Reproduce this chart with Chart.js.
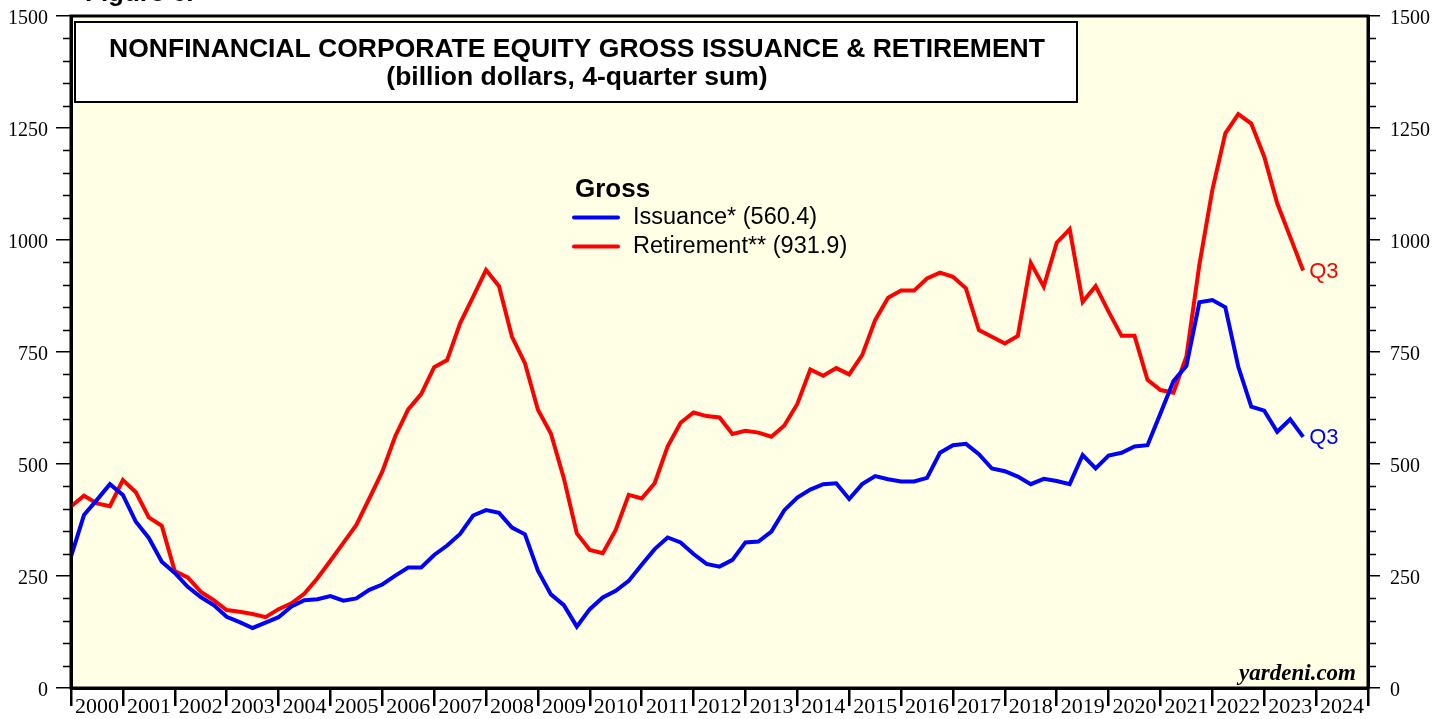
<!DOCTYPE html>
<html>
<head>
<meta charset="utf-8">
<script src="https://cdn.jsdelivr.net/npm/chart.js@4.4.0/dist/chart.umd.min.js"></script>
<style>
html,body{margin:0;padding:0;background:#ffffff;}
#wrap{width:1448px;height:719px;position:relative;overflow:hidden;}
canvas{display:block;}
</style>
</head>
<body>
<div id="wrap"><canvas id="c" width="1448" height="719"></canvas></div>
<script>
// ---------- DATA ----------
const quarters = [
  '1999Q4',
  '2000Q1','2000Q2','2000Q3','2000Q4','2001Q1','2001Q2','2001Q3','2001Q4',
  '2002Q1','2002Q2','2002Q3','2002Q4','2003Q1','2003Q2','2003Q3','2003Q4',
  '2004Q1','2004Q2','2004Q3','2004Q4','2005Q1','2005Q2','2005Q3','2005Q4',
  '2006Q1','2006Q2','2006Q3','2006Q4','2007Q1','2007Q2','2007Q3','2007Q4',
  '2008Q1','2008Q2','2008Q3','2008Q4','2009Q1','2009Q2','2009Q3','2009Q4',
  '2010Q1','2010Q2','2010Q3','2010Q4','2011Q1','2011Q2','2011Q3','2011Q4',
  '2012Q1','2012Q2','2012Q3','2012Q4','2013Q1','2013Q2','2013Q3','2013Q4',
  '2014Q1','2014Q2','2014Q3','2014Q4','2015Q1','2015Q2','2015Q3','2015Q4',
  '2016Q1','2016Q2','2016Q3','2016Q4','2017Q1','2017Q2','2017Q3','2017Q4',
  '2018Q1','2018Q2','2018Q3','2018Q4','2019Q1','2019Q2','2019Q3','2019Q4',
  '2020Q1','2020Q2','2020Q3','2020Q4','2021Q1','2021Q2','2021Q3','2021Q4',
  '2022Q1','2022Q2','2022Q3','2022Q4','2023Q1','2023Q2','2023Q3'
];
const issuance = [
  293,
  386,420,455,431, 371,335,282,257,
  226,203,185,159, 147,134,146,158,
  182,196,198,205, 195,200,219,231,
  251,269,269,297, 318,344,385,397,
  391,358,343,262, 209,185,137,176,
  202,217,239,275, 310,336,325,299,
  277,271,286,325, 327,349,397,425,
  443,455,457,422, 455,473,466,461,
  461,469,525,542, 545,522,490,484,
  472,455,467,462, 455,520,490,519,
  525,539,542,613, 685,719,861,866,
  850,717,628,619, 572,600,560.4
];
const retirement = [
  405,
  429,412,406,464, 437,381,362,261,
  247,215,196,174, 170,165,158,176,
  189,211,245,284, 324,364,423,483,
  562,622,656,716, 732,814,873,933,
  897,784,725,621, 568,468,345,308,
  301,353,431,423, 457,539,592,615,
  607,604,567,574, 570,561,586,634,
  711,697,714,700, 743,821,871,887,
  887,914,927,918, 892,799,784,769,
  786,949,896,994, 1024,862,897,840,
  786,786,688,665, 659,740,945,1112,
  1238,1281,1260,1186, 1082,1007,931.9
];
const seriesNames = ['Issuance*', 'Retirement**'];
const seriesColors = ['#0000ff', '#ff0000'];
const xTickLabels = ['2000','2001','2002','2003','2004','2005','2006','2007','2008','2009',
  '2010','2011','2012','2013','2014','2015','2016','2017','2018','2019',
  '2020','2021','2022','2023','2024'];
const yTickLabels = ['0','250','500','750','1000','1250','1500'];
const titleLines = ['NONFINANCIAL CORPORATE EQUITY GROSS ISSUANCE & RETIREMENT',
  '(billion dollars, 4-quarter sum)'];
const legendTitle = 'Gross';
const lastLabel = 'Q3';
const sourceText = 'yardeni.com';
const figureText = 'Figure 6.';

// quarter label -> decimal year at end of quarter
function qToX(q) { return parseInt(q.slice(0,4),10) + parseInt(q.slice(5),10) / 4; }
function toPoints(vals) { return vals.map((v,i) => ({x: qToX(quarters[i]), y: v})); }

const SANS = '"Liberation Sans", Arial, sans-serif';
const SERIF = '"Liberation Serif", "Times New Roman", serif';

function noPad(s) { s.paddingTop = 0; s.paddingBottom = 0; s.paddingLeft = 0; s.paddingRight = 0; }

const decor = {
  id: 'decor',
  beforeDraw(chart) {
    const {ctx, chartArea: a} = chart;
    ctx.save();
    ctx.fillStyle = '#ffffe6';
    ctx.fillRect(a.left, a.top, a.right - a.left, a.bottom - a.top);
    ctx.restore();
  },
  afterDraw(chart) {
    const {ctx, chartArea: a} = chart;
    const y = chart.scales.y;
    ctx.save();
    // minor ticks every 50
    ctx.strokeStyle = '#000';
    ctx.lineWidth = 1.5;
    for (let v = 0; v <= 1500; v += 50) {
      if (v % 250 === 0) continue;
      const py = Math.round(y.getPixelForValue(v)) + 0.5;
      ctx.beginPath();
      ctx.moveTo(a.left - 8, py); ctx.lineTo(a.left, py);
      ctx.moveTo(a.right, py); ctx.lineTo(a.right + 8, py);
      ctx.stroke();
    }
    // frame
    ctx.lineWidth = 3;
    ctx.strokeRect(a.left, a.top, a.right - a.left, a.bottom - a.top);

    // title box
    ctx.fillStyle = '#ffffff';
    ctx.fillRect(75, 22, 1002, 80);
    ctx.lineWidth = 2;
    ctx.strokeStyle = '#000';
    ctx.strokeRect(75, 22, 1002, 80);
    ctx.fillStyle = '#000';
    ctx.textAlign = 'center';
    ctx.textBaseline = 'middle';
    ctx.font = 'bold 26.5px ' + SANS;
    ctx.fillText(titleLines[0], 577, 50);
    ctx.fillText(titleLines[1], 577, 78);

    // legend
    ctx.textAlign = 'left';
    ctx.font = 'bold 26px ' + SANS;
    ctx.fillText(legendTitle, 575, 190);
    const lastVals = [issuance[issuance.length-1], retirement[retirement.length-1]];
    ctx.font = '23.5px ' + SANS;
    [217.5, 246.5].forEach((ly, k) => {
      ctx.strokeStyle = seriesColors[k];
      ctx.lineWidth = 4;
      ctx.lineCap = 'round';
      ctx.beginPath(); ctx.moveTo(574, ly); ctx.lineTo(618, ly); ctx.stroke();
      ctx.fillStyle = '#000';
      ctx.fillText(seriesNames[k] + ' (' + lastVals[k].toFixed(1) + ')', 633, ly);
    });

    // Q3 end labels
    ctx.font = '22px ' + SANS;
    chart.data.datasets.forEach((ds, k) => {
      const meta = chart.getDatasetMeta(k);
      const pt = meta.data[meta.data.length - 1];
      ctx.fillStyle = seriesColors[k];
      ctx.fillText(lastLabel, pt.x + 6, pt.y + 1);
    });

    // source
    ctx.fillStyle = '#000';
    ctx.textAlign = 'right';
    ctx.textBaseline = 'alphabetic';
    ctx.font = 'italic bold 23px ' + SERIF;
    ctx.fillText(sourceText, 1356, 680);

    // cut-off figure label at the very top
    ctx.textAlign = 'left';
    ctx.font = 'bold 26px ' + SANS;
    ctx.fillText(figureText, 85, 1);
    ctx.restore();
  }
};

new Chart(document.getElementById('c'), {
  type: 'line',
  data: {
    datasets: [
      { label: seriesNames[0], data: toPoints(issuance), borderColor: seriesColors[0],
        borderWidth: 4, pointRadius: 0, tension: 0, fill: false },
      { label: seriesNames[1], data: toPoints(retirement), borderColor: seriesColors[1],
        borderWidth: 4, pointRadius: 0, tension: 0, fill: false }
    ]
  },
  options: {
    responsive: false,
    animation: false,
    devicePixelRatio: 1,
    layout: { padding: { top: 16, left: 0, right: 0, bottom: 0 } },
    plugins: { legend: { display: false }, tooltip: { enabled: false }, title: { display: false } },
    scales: {
      x: {
        type: 'linear', position: 'bottom', min: 2000, max: 2025,
        afterFit: s => { s.height = 31; noPad(s); },
        ticks: {
          stepSize: 1, autoSkip: false, maxRotation: 0, minRotation: 0,
          labelOffset: 26, padding: -12, color: '#000',
          font: { family: SERIF, size: 22 },
          callback: (v, i) => (xTickLabels[i] !== undefined ? xTickLabels[i] : '')
        },
        grid: { drawOnChartArea: false, drawTicks: true, tickLength: 18, color: '#000', lineWidth: 2.5 },
        border: { display: true, color: '#000', width: 3 }
      },
      y: {
        position: 'left', min: 0, max: 1500,
        afterFit: s => { s.width = 71; noPad(s); },
        ticks: {
          stepSize: 250, padding: 8, labelOffset: 3, color: '#000',
          font: { family: SERIF, size: 20 },
          callback: (v, i) => yTickLabels[i]
        },
        grid: { drawOnChartArea: false, drawTicks: true, tickLength: 15, color: '#000', lineWidth: 1.5 },
        border: { display: true, color: '#000', width: 3 }
      },
      y2: {
        position: 'right', min: 0, max: 1500,
        afterFit: s => { s.width = 80; noPad(s); },
        ticks: {
          stepSize: 250, padding: 10, labelOffset: 3, color: '#000',
          font: { family: SERIF, size: 20 },
          callback: (v, i) => yTickLabels[i]
        },
        grid: { drawOnChartArea: false, drawTicks: true, tickLength: 12, color: '#000', lineWidth: 1.5 },
        border: { display: true, color: '#000', width: 3 }
      }
    }
  },
  plugins: [decor]
});
</script>
</body>
</html>
